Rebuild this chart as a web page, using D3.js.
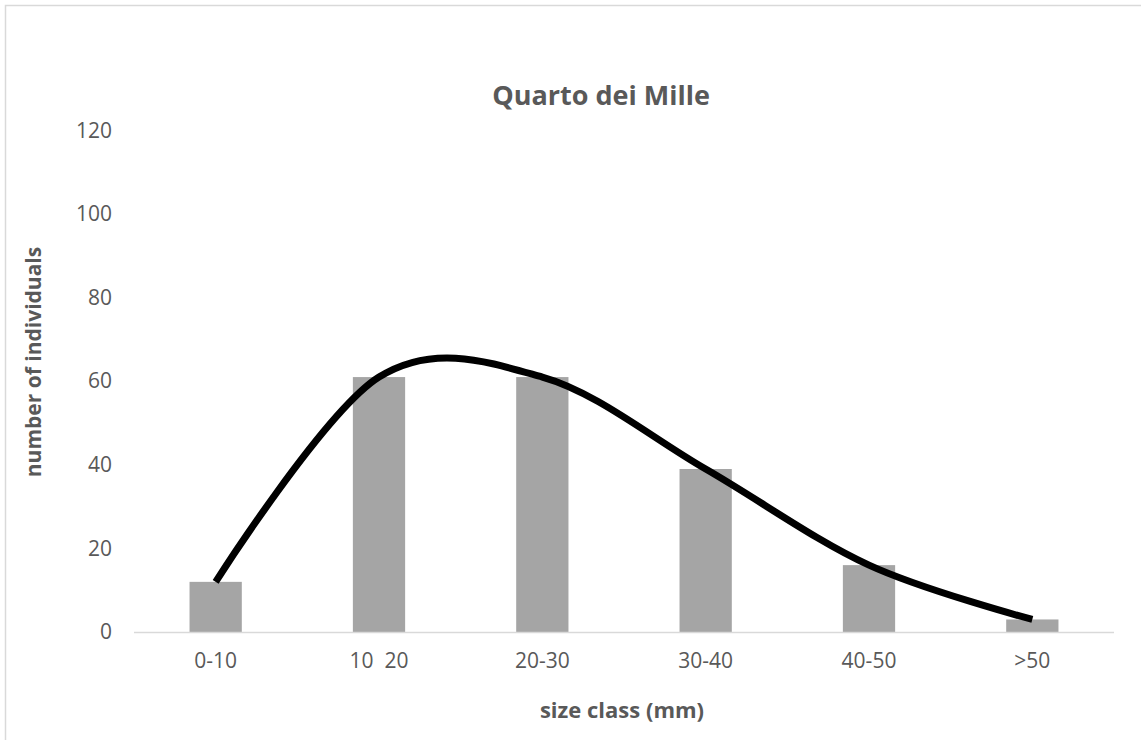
<!DOCTYPE html>
<html><head><meta charset="utf-8">
<script src="https://cdn.jsdelivr.net/npm/d3@7"></script>
<style>body{margin:0;background:#fff}svg{display:block}text{font-family:"Open Sans",sans-serif}</style>
</head><body><svg id="c" width="1141" height="740"></svg>
<script>
const categories = ["0-10", "10  20", "20-30", "30-40", "40-50", ">50"];
const counts = [12, 61, 61, 39, 16, 3];
const yTicks = [0, 20, 40, 60, 80, 100, 120];
const title = "Quarto dei Mille";
const xTitle = "size class (mm)";
const yTitle = "number of individuals";

const svg = d3.select("#c");
svg.append("rect").attr("x",5.5).attr("y",5.5).attr("width",1160).attr("height",760)
  .attr("fill","#fff").attr("stroke","#d9d9d9").attr("stroke-width",1.5);

const pL = 134, pR = 1114, pT = 130.5, pB = 632;
const x = d3.scaleBand().domain(categories).range([pL, pR]).paddingInner(0.68).paddingOuter(0.34);
const y = d3.scaleLinear().domain([0, 120]).range([pB, pT]);
const cx = d => x(d) + x.bandwidth()/2;

svg.selectAll("rect.bar").data(categories).enter().append("rect").attr("class","bar")
  .attr("x", d => x(d)).attr("width", x.bandwidth())
  .attr("y", (d,i) => y(counts[i])).attr("height", (d,i) => y(0) - y(counts[i]))
  .attr("fill", "#a5a5a5");

svg.append("line").attr("x1", pL).attr("x2", pR).attr("y1", pB+0.5).attr("y2", pB+0.5)
  .attr("stroke", "#d9d9d9").attr("stroke-width", 1.5);

const yAxis = d3.axisLeft(y).tickValues(yTicks).tickSize(0).tickPadding(22);
const ya = svg.append("g").attr("transform", `translate(${pL},0)`).call(yAxis);
ya.select(".domain").remove();
ya.selectAll("text").attr("fill","#595959").style("font-size","21px").attr("font-family","Open Sans");

const xAxis = d3.axisBottom(x).tickSize(0).tickPadding(21);
const xa = svg.append("g").attr("transform", `translate(0,${pB})`).call(xAxis);
xa.select(".domain").remove();
xa.selectAll("text").attr("fill","#595959").style("font-size","21px").attr("font-family","Open Sans").style("white-space","pre");

const line = d3.line().x((d,i) => cx(categories[i])).y(d => y(d)).curve(d3.curveCardinal.tension(0));
svg.append("path").datum(counts).attr("d", line).attr("fill","none")
  .attr("stroke","#000").attr("stroke-width",7);

svg.append("text").attr("x", 601).attr("y", 105).attr("text-anchor","middle")
  .attr("fill","#595959").style("font-size","27px").style("font-weight","bold").text(title);
svg.append("text").attr("x", 622).attr("y", 718).attr("text-anchor","middle")
  .attr("fill","#595959").style("font-size","22px").style("font-weight","bold").text(xTitle);
svg.append("text").attr("transform","translate(41,362) rotate(-90)").attr("text-anchor","middle")
  .attr("fill","#595959").style("font-size","21px").style("font-weight","bold").text(yTitle);
</script></body></html>
